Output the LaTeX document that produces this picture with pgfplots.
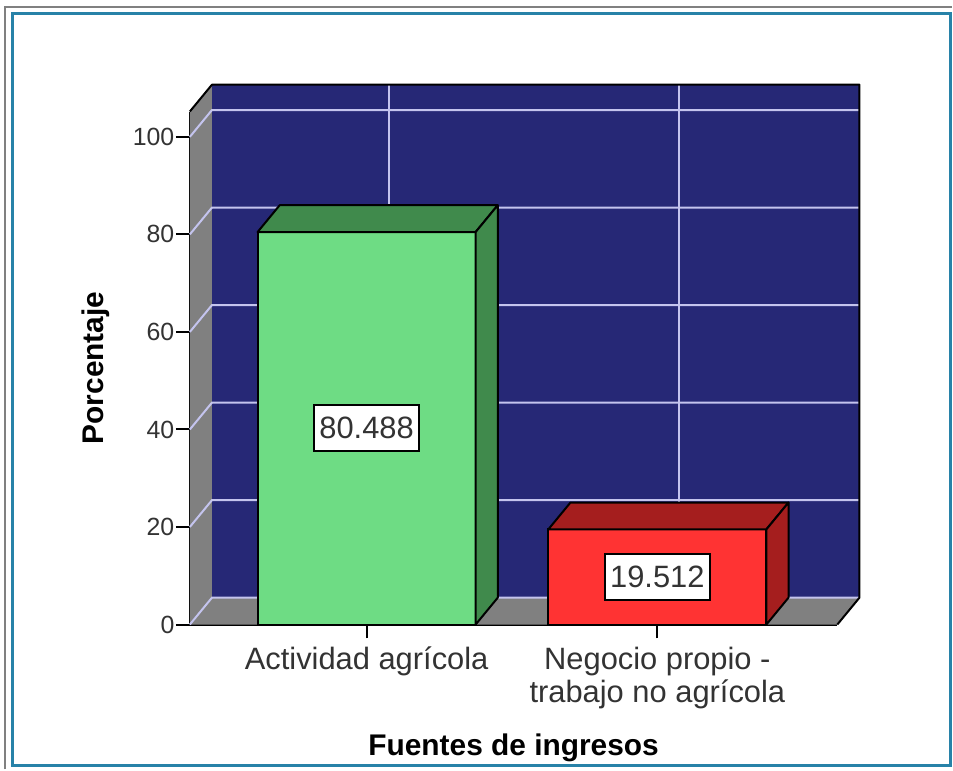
\documentclass[border=0pt]{standalone}
\usepackage{pgfplots}
\pgfplotsset{compat=1.18}
\usepackage{fontspec}
\setmainfont{Liberation Sans}

\definecolor{wall}{RGB}{38,40,118}
\definecolor{gridc}{RGB}{196,196,238}
\definecolor{side}{RGB}{128,128,128}
\definecolor{verde}{RGB}{110,220,132}
\definecolor{verdeosc}{RGB}{64,138,76}
\definecolor{rojo}{RGB}{255,51,51}
\definecolor{rojoosc}{RGB}{165,30,30}
\definecolor{marco}{RGB}{40,130,168}

\begin{document}
\begin{tikzpicture}
\begin{axis}[
  at={(0,0)}, anchor=south west,
  scale only axis, width=648bp, height=513.4bp,
  xmin=0.392, xmax=2.619, ymin=0, ymax=105.2,
  clip=false,
  axis x line*=bottom, axis y line*=left,
  axis line style={-, black, line width=2bp},
  xtick={1,2},
  xticklabels={Actividad agrícola, {Negocio propio -\\trabajo no agrícola}},
  ytick={0,20,40,60,80,100},
  tick align=outside, major tick length=14bp,
  tick style={black, line width=2bp},
  /pgf/number format/assume math mode=true,
  yticklabel style={font=\fontsize{25}{28}\selectfont, color=black!80, xshift=2bp},
  xticklabel style={font=\fontsize{31}{33}\selectfont, color=black!80, align=center, yshift=-5bp},
  xlabel={\textbf{Fuentes de ingresos}},
  ylabel={\textbf{Porcentaje}},
  xlabel style={font=\fontsize{30}{34}\selectfont, at={(rel axis cs:0.5,0)}, anchor=center, yshift=-123bp},
  ylabel style={font=\fontsize{30}{34}\selectfont, at={(rel axis cs:0,0.5)}, anchor=center, yshift=94bp},
]
% walls and floor
\fill[wall] (axis cs:0.468,5.5) -- (axis cs:2.695,5.5) -- (axis cs:2.695,110.7) -- (axis cs:0.468,110.7) -- cycle;
\fill[side] (axis cs:0.392,0) -- (axis cs:0.468,5.5) -- (axis cs:0.468,110.7) -- (axis cs:0.392,105.2) -- cycle;
\fill[side] (axis cs:0.392,0) -- (axis cs:2.619,0) -- (axis cs:2.695,5.5) -- (axis cs:0.468,5.5) -- cycle;
% grid
\draw[gridc, line width=2bp] (axis cs:0.392,0) -- (axis cs:0.468,5.5) -- (axis cs:2.695,5.5);
\draw[gridc, line width=2bp] (axis cs:0.392,20) -- (axis cs:0.468,25.5) -- (axis cs:2.695,25.5);
\draw[gridc, line width=2bp] (axis cs:0.392,40) -- (axis cs:0.468,45.5) -- (axis cs:2.695,45.5);
\draw[gridc, line width=2bp] (axis cs:0.392,60) -- (axis cs:0.468,65.5) -- (axis cs:2.695,65.5);
\draw[gridc, line width=2bp] (axis cs:0.392,80) -- (axis cs:0.468,85.5) -- (axis cs:2.695,85.5);
\draw[gridc, line width=2bp] (axis cs:0.392,100) -- (axis cs:0.468,105.5) -- (axis cs:2.695,105.5);
\draw[gridc, line width=2bp] (axis cs:1.076,5.5) -- (axis cs:1.076,110.7);
\draw[gridc, line width=2bp] (axis cs:2.076,5.5) -- (axis cs:2.076,110.7);
% outline of the box
\draw[black, line width=2bp, line join=round] (axis cs:0.392,105.2) -- (axis cs:0.468,110.7) -- (axis cs:2.695,110.7) -- (axis cs:2.695,5.5) -- (axis cs:2.619,0);

% bar 1: Actividad agricola
\addplot[ybar, bar width=0.75, bar shift=0, fill=verde, draw=black, line width=2bp] coordinates {(1,80.488)};
\addplot[fill=verdeosc, draw=black, line width=2bp, line join=round] coordinates {(0.625,80.488) (0.701,85.988) (1.451,85.988) (1.375,80.488)} -- cycle;
\addplot[fill=verdeosc, draw=black, line width=2bp, line join=round] coordinates {(1.375,0) (1.375,80.488) (1.451,85.988) (1.451,5.5)} -- cycle;
% bar 2: Negocio propio
\addplot[ybar, bar width=0.75, bar shift=0, fill=rojo, draw=black, line width=2bp] coordinates {(2,19.512)};
\addplot[fill=rojoosc, draw=black, line width=2bp, line join=round] coordinates {(1.625,19.512) (1.701,25.012) (2.451,25.012) (2.375,19.512)} -- cycle;
\addplot[fill=rojoosc, draw=black, line width=2bp, line join=round] coordinates {(2.375,0) (2.375,19.512) (2.451,25.012) (2.451,5.5)} -- cycle;

% value labels
\node[fill=white, draw=black, line width=2bp, font=\fontsize{31}{34}\selectfont, text=black!80, inner xsep=5bp, minimum height=46bp] at (axis cs:1,40.244) {80.488};
\node[fill=white, draw=black, line width=2bp, font=\fontsize{31}{34}\selectfont, text=black!80, inner xsep=5bp, minimum height=46bp] at (axis cs:2,9.756) {19.512};
\end{axis}
% frame of the window
\draw[gray, line width=1.5bp] (-185bp,-145bp) -- (-185bp,618bp) -- (763bp,618bp);
\draw[marco, line width=3bp] (-177bp,-141bp) rectangle (761bp,611bp);
\path[use as bounding box] (-190bp,-145bp) rectangle (763bp,625bp);
\end{tikzpicture}
\end{document}
